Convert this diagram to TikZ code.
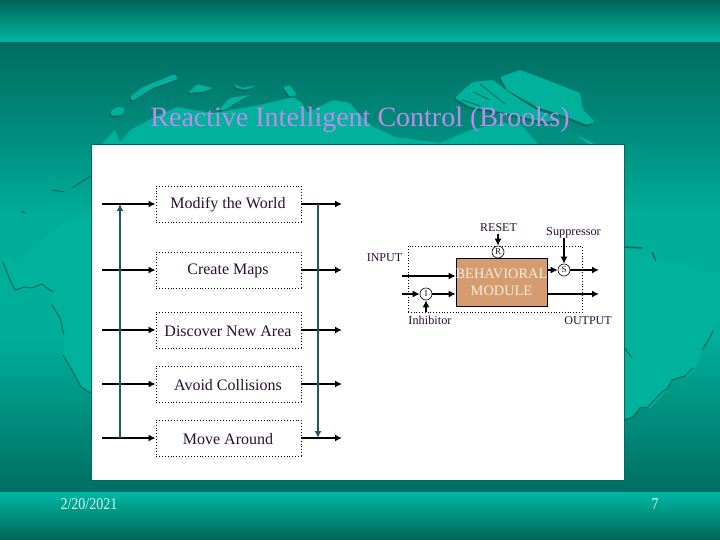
\documentclass[tikz,border=0pt]{standalone}
\usepackage{graphicx}
\usepackage{fontspec}
\setmainfont{Liberation Serif}
\usetikzlibrary{arrows.meta}
\definecolor{bandlight}{HTML}{00B8A4}
\definecolor{banddark}{HTML}{006558}
\definecolor{seadark}{HTML}{006E62}
\definecolor{seamid}{HTML}{009383}
\definecolor{sealight}{HTML}{00AE99}
\definecolor{landc}{HTML}{00B19C}
\definecolor{landshadow}{HTML}{006A5E}
\definecolor{landmid}{HTML}{00907F}
\definecolor{titlec}{HTML}{BC8CEC}
\definecolor{inkc}{HTML}{2A1030}
\definecolor{tealarrow}{HTML}{1F5A5C}
\definecolor{modc}{HTML}{D49C70}
\definecolor{modtext}{HTML}{F8EEDC}
\definecolor{footc}{HTML}{D8F4EE}
\tikzset{
  lbl/.style={text=inkc,font=\fontsize{12}{14}\selectfont,inner sep=0pt},
  smalllbl/.style={text=inkc,font=\fontsize{12.3}{14}\selectfont,inner sep=0pt},
  beh/.style={draw=black,dotted,line width=0.9pt,minimum width=145pt,minimum height=36pt,inner sep=0pt},
  behtext/.style={text=inkc,font=\fontsize{16}{18}\selectfont,inner sep=0pt},
  flow/.style={black,line width=1.6pt,-{Latex[length=7pt,width=7pt]}},
  tealflow/.style={tealarrow,line width=1.7pt,-{Latex[length=7pt,width=7pt]}},
  gate/.style={circle,draw=black,fill=white,line width=0.6pt,minimum size=12pt,inner sep=0pt,text=inkc,font=\fontsize{9}{9}\selectfont},
  foot/.style={text=footc,font=\fontsize{16.5}{18}\selectfont,inner sep=0pt}
}
\newcommand{\landshape}[1]{\fill[landshadow,rounded corners=1.5pt,shift={(-1.5,2)}] #1; \fill[landc,rounded corners=1.5pt] #1;}
\begin{document}
\begin{tikzpicture}[x=1pt,y=-1pt]
\useasboundingbox (0,0) rectangle (720,540);
% background bands
\shade[top color=banddark,bottom color=bandlight] (0,0) rectangle (720,43);
\shade[top color=seadark,bottom color=seamid] (0,43) rectangle (720,150.5);
\shade[top color=seamid,bottom color=sealight] (0,150) rectangle (720,215.5);
\shade[top color=sealight,bottom color=sealight] (0,215) rectangle (720,340.5);
\shade[top color=sealight,bottom color=seadark] (0,340) rectangle (720,492);
\shade[top color=bandlight,bottom color=banddark] (0,492) rectangle (720,540);
% land, right hand side
\fill[landc] (620,250) -- (720,275) -- (720,318) -- (702,350) -- (697,365) -- (690,375) -- (672,380) -- (665,392) -- (650,408) -- (640,407) -- (630,418) -- (620,420) -- cycle;
\draw[landshadow,line width=1pt] (624,420) -- (634,417) -- (640,408) -- (648,407) -- (662,392) -- (668,388) -- (672,380) -- (685,376) -- (693,368);
\draw[landshadow,line width=1pt] (702,350) -- (708,341) -- (713,331);
\draw[landshadow,line width=1.5pt] (624,247) -- (642,248);
\draw[landshadow,line width=1.2pt] (652,252) -- (656,261);
\draw[landshadow,line width=1pt] (624,347) -- (632,358);
% land, left hand side
\fill[landc] (91,215) -- (60,225) -- (15,262) -- (3,262) -- (15,290) -- (40,285) -- (53,292) -- (52,305) -- (65,340) -- (63,355) -- (80,385) -- (91,392) -- cycle;
\draw[landshadow,line width=1pt] (3,262) -- (10,280) -- (15,290) -- (25,287) -- (32,288) -- (42,284) -- (47,288) -- (53,292);
\draw[landshadow,line width=1pt] (52,305) -- (60,318) -- (64,335);
\draw[landshadow,line width=1pt] (63,355) -- (72,370) -- (81,387) -- (90,393);
\draw[landshadow,line width=1.2pt] (21,211) -- (25,213);
\draw[landshadow,line width=1pt] (52,190) -- (65,192);
\draw[landshadow,line width=1pt] (72,188) -- (91,176);
% land, top
\landshape{(130,97) -- (143,87) -- (175,74) -- (178,79) -- (153,88) -- (132,101) -- cycle}
\landshape{(110,112) -- (117,107) -- (125,108) -- (122,115) -- (112,116) -- cycle}
\landshape{(188,93) -- (197,84) -- (213,88) -- (203,92) -- cycle}
\landshape{(233,84) -- (243,88) -- (256,85) -- (247,90) -- (237,88) -- cycle}
\landshape{(218,110) -- (230,98) -- (250,95) -- (237,102) -- (225,110) -- cycle}
\landshape{(283,87) -- (290,85) -- (297,95) -- (290,97) -- cycle}
\landshape{(100,146) -- (115,130) -- (120,143) -- (130,130) -- (153,118) -- (177,107) -- (193,110) -- (213,113) -- (260,105) -- (293,97) -- (302,103) -- (307,113) -- (333,100) -- (350,103) -- (360,115) -- (372,126) -- (395,137) -- (440,143) -- (470,130) -- (503,123) -- (530,125) -- (560,127) -- (600,146) -- cycle}
\fill[landmid] (520,124) -- (545,117) -- (568,128) -- (590,146) -- (540,146) -- cycle;
\landshape{(500,77) -- (520,70) -- (547,80) -- (580,93) -- (583,110) -- (595,122) -- (587,125) -- (567,117) -- (537,107) -- (507,90) -- cycle}
\landshape{(455,98) -- (463,90) -- (473,82) -- (493,80) -- (510,93) -- (533,108) -- (560,120) -- (545,122) -- (500,112) -- (470,107) -- cycle}
\draw[landshadow,line width=0.8pt] (473,92) -- (490,100) (480,84) -- (505,104) (462,100) -- (480,106);
% title and panel
\node[inner sep=0pt,text=titlec,font=\fontsize{28}{30}\selectfont] (title) at (360,120) {Reactive Intelligent Control (Brooks)};
\fill[white,draw=landshadow,line width=0.8pt] (91,144) rectangle (624,480);
% behaviours
\node[beh] (m1) at (228.5,204) {};
\node[beh] (m2) at (228.5,270) {};
\node[beh] (m3) at (228.5,330) {};
\node[beh] (m4) at (228.5,384) {};
\node[beh] (m5) at (228.5,438) {};
\node[behtext] (t1) at (228,205) {Modify the World};
\node[behtext] (t2) at (228,271) {Create Maps};
\node[behtext] (t3) at (228,331) {Discover New Area};
\node[behtext] (t4) at (228,385) {Avoid Collisions};
\node[behtext] (t5) at (228,439) {Move Around};
\foreach \n/\y in {1/204,2/270,3/330,4/384,5/438}{
  \coordinate (l\n) at (102,\y);
  \coordinate (r\n) at (342,\y);
  \draw[flow] (l\n) -- (m\n.west);
  \draw[flow] (m\n.east) -- (r\n);
}
\coordinate (ta) at (120,438);
\coordinate (tb) at (120,204);
\coordinate (tc) at (318,204);
\coordinate (td) at (318,438);
\draw[tealflow] (ta) -- (tb);
\draw[tealflow] (tc) -- (td);
% behavioural module
\node[draw=black,dotted,line width=0.8pt,minimum width=174pt,minimum height=66pt,inner sep=0pt] (frame) at (495,279) {};
\node[draw=black,fill=modc,line width=0.6pt,minimum width=91pt,minimum height=48pt,inner sep=0pt] (mod) at (501.5,282) {};
\node[inner sep=0pt,align=center,text=modtext,font=\fontsize{14.4}{17}\selectfont] (modt) at (501.5,282.5) {BEHAVIORAL\\MODULE};
\node[gate] (R) at (498,252) {R};
\node[gate] (S) at (564,270) {S};
\node[gate] (I) at (426,294) {I};
\node[lbl] (reset) at (498.5,228) {RESET};
\node[smalllbl] (supp) at (573.5,233) {Suppressor};
\node[lbl] (input) at (384.5,258) {INPUT};
\node[smalllbl] (inh) at (430,320) {Inhibitor};
\node[lbl] (output) at (588,320.5) {OUTPUT};
\coordinate (c1) at (402,276);
\coordinate (c2) at (402,294);
\coordinate (c3) at (426,312);
\coordinate (c4) at (498,234);
\coordinate (c5) at (564,238);
\coordinate (c6) at (599,270);
\coordinate (c7) at (599,294);
\draw[flow] (c1) -- (c1 -| mod.west);
\draw[flow] (c2) -- (I.west);
\draw[flow] (I.east) -- (I -| mod.west);
\draw[flow] (c3) -- (I.south);
\draw[flow] (c4) -- (R.north);
\draw[flow] (c5) -- (S.north);
\draw[flow] (S -| mod.east) -- (S.west);
\draw[flow] (S.east) -- (c6);
\draw[flow] (c7 -| mod.east) -- (c7);
% footer
\node[foot] (date) at (89,504) {\scalebox{0.85}[1]{2/20/2021}};
\node[foot] (page) at (655,504) {\scalebox{0.85}[1]{7}};
\end{tikzpicture}
\end{document}
